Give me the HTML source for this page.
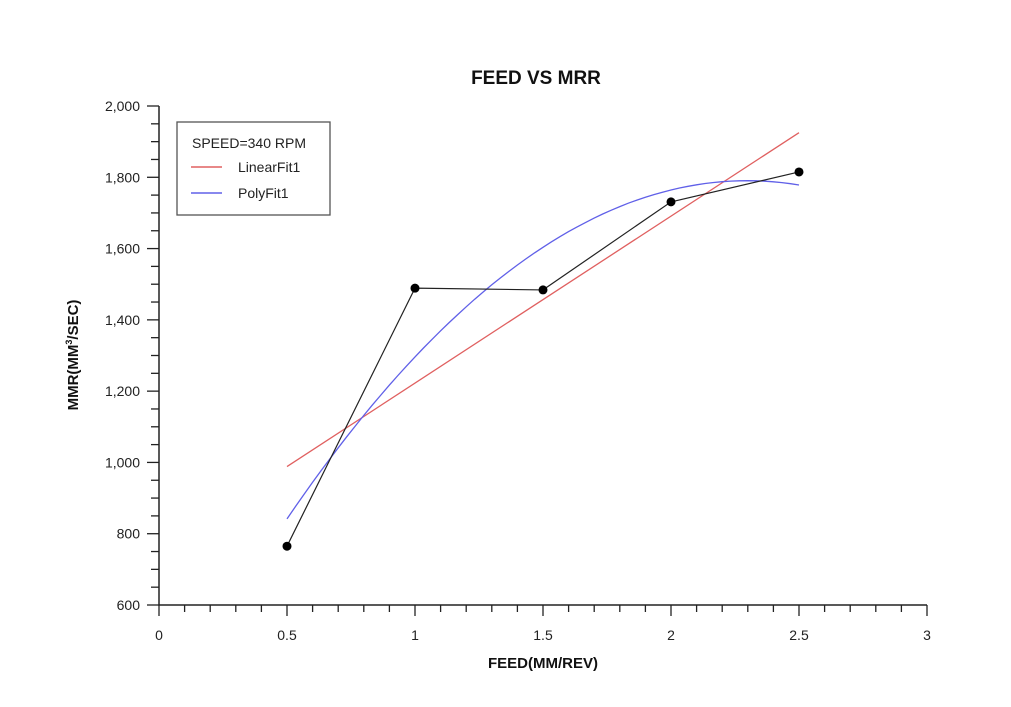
<!DOCTYPE html>
<html><head><meta charset="utf-8"><style>
body{margin:0;background:#fff;}
svg{display:block;font-family:"Liberation Sans",sans-serif;}
</style></head><body>
<svg id="c" width="1011" height="707"></svg>
<script>
const feedValues=[0.5,1,1.5,2,2.5];
const mrrValues=[765,1489,1484,1731,1815];
const xTickLabels=["0","0.5","1","1.5","2","2.5","3"];
const yTickLabels=["600","800","1,000","1,200","1,400","1,600","1,800","2,000"];
const NS="http://www.w3.org/2000/svg";
const svg=document.getElementById('c');
function X(v){return 159+v*256;}
function Y(v){return 605-(v-600)*(499/1400);}
function el(t,a,p){const e=document.createElementNS(NS,t);for(const k in a)e.setAttribute(k,a[k]);(p||svg).appendChild(e);return e;}
let t=el('text',{x:536,y:84,'text-anchor':'middle','font-size':19,'font-weight':'bold',fill:'#111'});t.textContent='FEED VS MRR';


// axes
let ax=el('path',{d:`M159,106V605H927`,stroke:'#222','stroke-width':1.5,fill:'none'});


for(let i=0;i<=30;i++){const v=i/10,x=X(v),maj=i%5==0;el('line',{x1:x,x2:x,y1:605,y2:maj?616:612,stroke:'#222','stroke-width':1.3});}
xTickLabels.forEach(s=>{const v=parseFloat(s);const e=el('text',{x:X(v),y:640,'text-anchor':'middle','font-size':14,fill:'#222'});e.textContent=s;

});
for(let v=600;v<=2000;v+=50){const y=Y(v),maj=v%200==0;el('line',{x1:maj?147:151,x2:159,y1:y,y2:y,stroke:'#222','stroke-width':1.3});}
yTickLabels.forEach(s=>{const v=parseFloat(s.replace(',',''));const e=el('text',{x:140,y:Y(v)+5,'text-anchor':'end','font-size':14,fill:'#222'});e.textContent=s;

});
t=el('text',{x:543,y:668,'text-anchor':'middle','font-size':15,'font-weight':'bold',fill:'#111'});t.textContent='FEED(MM/REV)';


t=el('text',{transform:'translate(78,355) rotate(-90)','text-anchor':'middle','font-size':15,'font-weight':'bold',fill:'#111'});t.innerHTML='MMR(MM<tspan font-size="9" dy="-6">3</tspan><tspan dy="6">/SEC)</tspan>';


// fits computed from data
const n=feedValues.length;
const mx=feedValues.reduce((a,b)=>a+b)/n,my=mrrValues.reduce((a,b)=>a+b)/n;
let sxx=0,sxy=0;feedValues.forEach((x,i)=>{sxx+=(x-mx)**2;sxy+=(x-mx)*(mrrValues[i]-my);});
const slope=sxy/sxx,icpt=my-slope*mx;
const x0=Math.min(...feedValues),x1=Math.max(...feedValues);
let lf=el('line',{x1:X(x0),y1:Y(icpt+slope*x0),x2:X(x1),y2:Y(icpt+slope*x1),stroke:'#e06060','stroke-width':1.3});


// quadratic least squares
let S=[0,0,0,0,0],T=[0,0,0];
feedValues.forEach((x,i)=>{for(let k=0;k<5;k++)S[k]+=x**k;for(let k=0;k<3;k++)T[k]+=mrrValues[i]*x**k;});
function solve(A,b){const m=A.map((r,i)=>[...r,b[i]]);for(let i=0;i<3;i++){for(let j=i+1;j<3;j++){const f=m[j][i]/m[i][i];for(let k=i;k<4;k++)m[j][k]-=f*m[i][k];}}const r=[0,0,0];for(let i=2;i>=0;i--){let s=m[i][3];for(let k=i+1;k<3;k++)s-=m[i][k]*r[k];r[i]=s/m[i][i];}return r;}
const q=solve([[S[0],S[1],S[2]],[S[1],S[2],S[3]],[S[2],S[3],S[4]]],T);
let d='';for(let i=0;i<=60;i++){const x=x0+(x1-x0)*i/60;d+=(i?'L':'M')+X(x).toFixed(1)+','+Y(q[0]+q[1]*x+q[2]*x*x).toFixed(1);}
let pf=el('path',{d,stroke:'#6060e8','stroke-width':1.3,fill:'none'});


let dl=el('path',{d:feedValues.map((x,i)=>(i?'L':'M')+X(x)+','+Y(mrrValues[i])).join(''),stroke:'#222','stroke-width':1.2,fill:'none'});


feedValues.forEach((x,i)=>{const c=el('circle',{cx:X(x),cy:Y(mrrValues[i]),r:4.5,fill:'#000'});

});
// legend
const g=el('g',{});


el('rect',{x:177,y:122,width:153,height:93,fill:'#fff',stroke:'#555','stroke-width':1.3},g);
t=el('text',{x:192,y:148,'font-size':14,fill:'#222'},g);t.textContent='SPEED=340 RPM';
el('line',{x1:191,x2:222,y1:167,y2:167,stroke:'#e06060','stroke-width':1.5},g);
t=el('text',{x:238,y:172,'font-size':14,fill:'#222'},g);t.textContent='LinearFit1';


el('line',{x1:191,x2:222,y1:193,y2:193,stroke:'#6060e8','stroke-width':1.5},g);
t=el('text',{x:238,y:198,'font-size':14,fill:'#222'},g);t.textContent='PolyFit1';


</script>
</body></html>
